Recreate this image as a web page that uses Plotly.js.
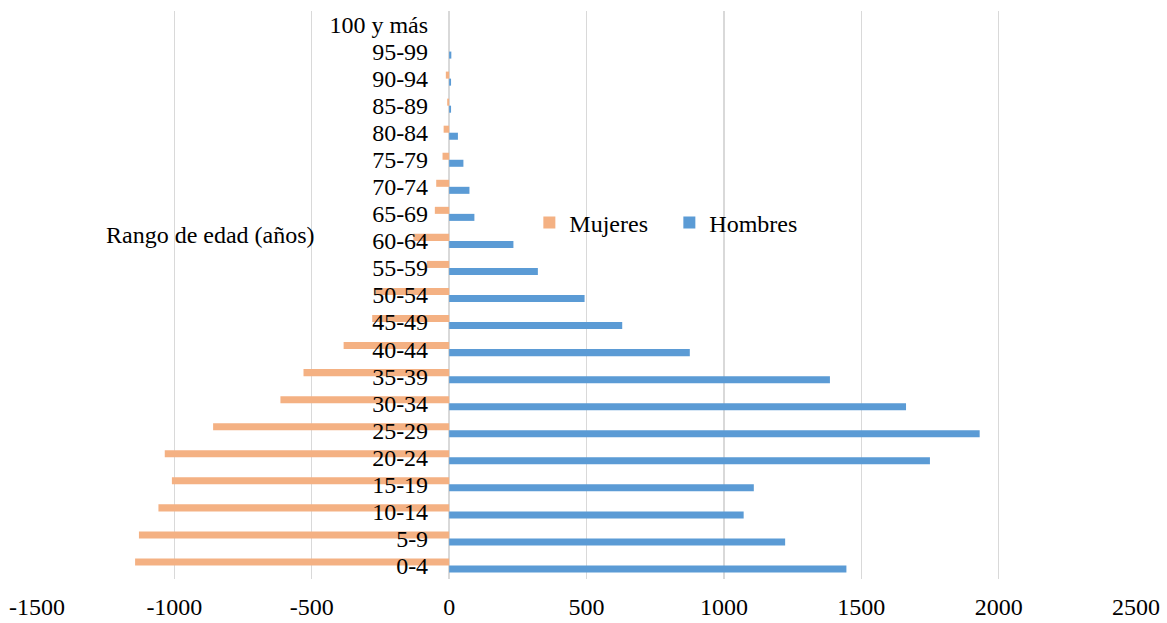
<!DOCTYPE html>
<html>
<head>
<meta charset="utf-8">
<script src="https://cdn.plot.ly/plotly-3.0.1.min.js"></script>
<style>html,body{margin:0;padding:0;background:#fff;}#chart{width:1167px;height:623px;}</style>
</head>
<body>
<div id="chart"></div>
<script>
const categories = ["0-4","5-9","10-14","15-19","20-24","25-29","30-34","35-39","40-44","45-49","50-54","55-59","60-64","65-69","70-74","75-79","80-84","85-89","90-94","95-99","100 y más"];
const mujeres = [-1143, -1129, -1058, -1009, -1035, -859, -614, -530, -384, -280, -270, -81, -130, -52, -47, -24, -20, -7, -12, 0, 0];
const hombres = [1446, 1223, 1072, 1109, 1750, 1931, 1663, 1386, 876, 630, 493, 323, 234, 92, 74, 52, 32, 7, 7, 8, 0];
const xTickVals = [-1500, -1000, -500, 0, 500, 1000, 1500, 2000, 2500];
const xTickText = ["-1500", "-1000", "-500", "0", "500", "1000", "1500", "2000", "2500"];
const yAxisTitle = "Rango de edad (años)";

const FONT = "'Liberation Serif', 'Times New Roman', serif";

const traces = [
  {type: "bar", orientation: "h", name: "Hombres", y: categories, x: hombres,
   marker: {color: "#5B9BD5"}, legendrank: 2},
  {type: "bar", orientation: "h", name: "Mujeres", y: categories, x: mujeres,
   marker: {color: "#F4B183"}, legendrank: 1}
];

const layout = {
  width: 1167, height: 623,
  margin: {l: 36.5, r: 30.5, t: 11, b: 44},
  paper_bgcolor: "#fff", plot_bgcolor: "#fff",
  font: {family: FONT, size: 24, color: "#000"},
  barmode: "group", bargap: 0.48, bargroupgap: 0,
  showlegend: true,
  legend: {orientation: "h", x: 0.448, xanchor: "left", y: 0.627, yanchor: "middle",
           bgcolor: "rgba(0,0,0,0)", entrywidth: 95, font: {family: FONT, size: 24, color: "#000"}},
  xaxis: {range: [-1500, 2500], tickmode: "array", tickvals: xTickVals, ticktext: xTickText,
          showgrid: true, gridcolor: "#d9d9d9", gridwidth: 1.3, zeroline: false,
          showline: false, ticks: "", ticklabelstandoff: 11, fixedrange: true,
          tickfont: {family: FONT, size: 24, color: "#000"}},
  yaxis: {type: "category", anchor: "free", position: 0.375, showgrid: false, zeroline: false,
          showline: false, ticks: "", ticklabelstandoff: 21, fixedrange: true,
          tickmode: "array", tickvals: categories, ticktext: categories,
          tickfont: {family: FONT, size: 24, color: "#000"}},
  annotations: [{text: yAxisTitle, xref: "paper", yref: "paper", x: 0.2545, y: 0.606,
                 xanchor: "right", yanchor: "middle", showarrow: false,
                 font: {family: FONT, size: 24, color: "#000"}}]
};

Plotly.newPlot("chart", traces, layout, {displayModeBar: false, staticPlot: true});
</script>
</body>
</html>
